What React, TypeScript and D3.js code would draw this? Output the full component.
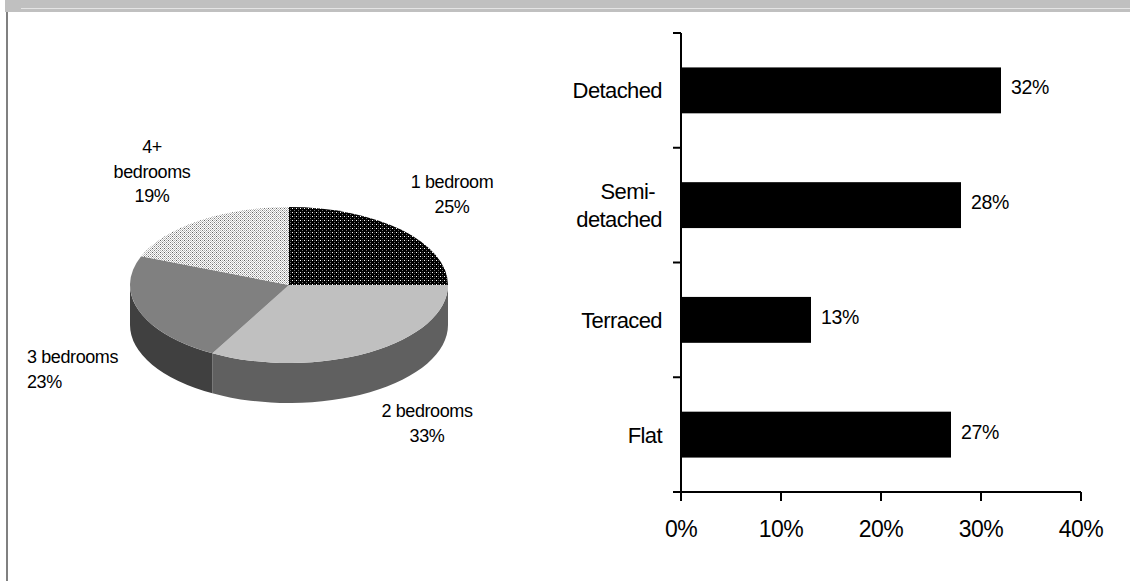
import React from 'react';
import * as d3 from 'd3';

// pie: bedrooms
const roomLabels = ['1 bedroom', '2 bedrooms', '3 bedrooms', '4+ bedrooms'];
const roomShares = [25, 33, 23, 19];

// bar: dwelling type
const dwellingTypes = ['Detached', 'Semi-detached', 'Terraced', 'Flat'];
const dwellingShares = [0.32, 0.28, 0.13, 0.27];
const xTicks = [0, 0.1, 0.2, 0.3, 0.4];

const W = 1130;
const H = 581;
const FONT = '"Liberation Sans", Arial, Helvetica, sans-serif';

// pie layout
const cx = 289;
const cy = 285;
const rx = 159;
const ry = 78;
const depth = 40;

const topFill = ['url(#darkDots)', '#c0c0c0', '#808080', 'url(#lightDots)'];
const sideFill = ['#202020', '#606060', '#404040', '#b0b0b0'];

// label text lines and where they sit (layout only)
const pieLabelLines = [
  ['1 bedroom', '25%'],
  ['2 bedrooms', '33%'],
  ['3 bedrooms', '23%'],
  ['4+', 'bedrooms', '19%'],
];
const pieLabelPos = [
  { x: 452, y: 182, anchor: 'middle' },
  { x: 427, y: 411, anchor: 'middle' },
  { x: 27, y: 357, anchor: 'start' },
  { x: 152, y: 147, anchor: 'middle' },
];

const pt = (a: number, dy = 0) => [cx + rx * Math.sin(a), cy - ry * Math.cos(a) + dy];

function topPath(a0: number, a1: number) {
  const [x0, y0] = pt(a0);
  const [x1, y1] = pt(a1);
  const large = a1 - a0 > Math.PI ? 1 : 0;
  return `M${cx},${cy}L${x0},${y0}A${rx},${ry} 0 ${large} 1 ${x1},${y1}Z`;
}

function sidePath(a0: number, a1: number) {
  const s = Math.max(a0, Math.PI / 2);
  const e = Math.min(a1, (3 * Math.PI) / 2);
  if (e <= s) return null;
  const [x0, y0] = pt(s);
  const [x1, y1] = pt(e);
  return `M${x0},${y0}A${rx},${ry} 0 0 1 ${x1},${y1}L${x1},${y1 + depth}A${rx},${ry} 0 0 0 ${x0},${y0 + depth}Z`;
}

export default function App() {
  const arcs = d3
    .pie<number>()
    .sort(null)
    .startAngle(0)
    .endAngle(2 * Math.PI)(roomShares);

  const x = d3.scaleLinear().domain([0, 0.4]).range([681, 1081]);
  const y = d3.scaleBand<string>().domain(dwellingTypes).range([33, 492]);
  const barH = y.bandwidth() * 0.4;
  const axisY = 492;

  return (
    <svg
      width={W}
      height={H}
      style={{ position: 'absolute', left: 0, top: 0, display: 'block', background: '#fff' }}
      fontFamily={FONT}
    >
      <defs>
        <pattern id="darkDots" width={4} height={4} patternUnits="userSpaceOnUse">
          <rect width={4} height={4} fill="#000" />
          <rect x={0} y={0} width={1} height={1} fill="#ffffff" />
          <rect x={2} y={2} width={1} height={1} fill="#707070" />
          <rect x={2} y={0} width={1} height={1} fill="#404040" />
        </pattern>
        <pattern id="lightDots" width={4} height={4} patternUnits="userSpaceOnUse">
          <rect width={4} height={4} fill="#fff" />
          <rect x={0} y={0} width={1} height={1} fill="#606060" />
          <rect x={2} y={0} width={1} height={1} fill="#b0b0b0" />
          <rect x={1} y={1} width={1} height={1} fill="#c0c0c0" />
          <rect x={3} y={1} width={1} height={1} fill="#c0c0c0" />
          <rect x={0} y={2} width={1} height={1} fill="#b0b0b0" />
          <rect x={2} y={2} width={1} height={1} fill="#808080" />
          <rect x={1} y={3} width={1} height={1} fill="#c0c0c0" />
          <rect x={3} y={3} width={1} height={1} fill="#c0c0c0" />
        </pattern>
      </defs>

      {/* frame */}
      <rect x={5} y={0} width={W - 5} height={12} fill="#c0c0c0" />
      <rect x={21} y={8} width={W - 21} height={1} fill="#e4e4e4" />
      <rect x={6} y={12} width={2} height={H - 12} fill="#808080" />

      {/* pie sides */}
      {arcs.map((a, i) => {
        const d = sidePath(a.startAngle, a.endAngle);
        return d ? <path key={'s' + i} d={d} fill={sideFill[i]} /> : null;
      })}
      {/* pie tops */}
      {arcs.map((a, i) => (
        <path key={'t' + i} d={topPath(a.startAngle, a.endAngle)} fill={topFill[i]} />
      ))}

      {/* pie labels */}
      {pieLabelLines.map((lines, i) => (
        <text
          key={'pl' + i}
          x={pieLabelPos[i].x}
          y={pieLabelPos[i].y}
          textAnchor={pieLabelPos[i].anchor}
          fontSize={18}
          letterSpacing={-0.4}
          dominantBaseline="central"
          fill="#000"
        >
          {lines.map((l, j) => (
            <tspan key={j} x={pieLabelPos[i].x} dy={j === 0 ? 0 : 24.5}>
              {l}
            </tspan>
          ))}
        </text>
      ))}

      {/* bars */}
      {dwellingTypes.map((t, i) => (
        <rect
          key={'b' + t}
          x={x(0)}
          y={(y(t) as number) + (y.bandwidth() - barH) / 2}
          width={x(dwellingShares[i]) - x(0)}
          height={barH}
          fill="#000"
        />
      ))}
      {dwellingTypes.map((t, i) => (
        <text
          key={'v' + t}
          x={x(dwellingShares[i]) + 10}
          y={(y(t) as number) + y.bandwidth() / 2 - 3}
          fontSize={19.5}
          letterSpacing={-0.4}
          dominantBaseline="central"
        >
          {Math.round(dwellingShares[i] * 100) + '%'}
        </text>
      ))}

      {/* y axis */}
      <line x1={x(0)} x2={x(0)} y1={33} y2={axisY} stroke="#000" strokeWidth={2} />
      {[...dwellingTypes.map((t) => y(t) as number), axisY].map((v, i) => (
        <line key={'yt' + i} x1={x(0) - 8} x2={x(0)} y1={v} y2={v} stroke="#000" strokeWidth={2} />
      ))}
      {dwellingTypes.map((t) => {
        const lines = t === 'Semi-detached' ? ['Semi-', 'detached'] : [t];
        const cyText = (y(t) as number) + y.bandwidth() / 2;
        const start = cyText - ((lines.length - 1) * 28) / 2;
        return (
          <text
            key={'c' + t}
            textAnchor="end"
            fontSize={22}
            letterSpacing={-0.6}
            dominantBaseline="central"
          >
            {lines.map((l, j) => (
              <tspan key={j} x={662 - (j === 0 && lines.length > 1 ? 7 : 0)} y={start + j * 28}>
                {l}
              </tspan>
            ))}
          </text>
        );
      })}

      {/* x axis */}
      <line x1={x(0) - 8} x2={x(0.4)} y1={axisY} y2={axisY} stroke="#000" strokeWidth={2} />
      {xTicks.map((v) => (
        <g key={'xt' + v}>
          <line x1={x(v)} x2={x(v)} y1={axisY} y2={axisY + 9} stroke="#000" strokeWidth={2} />
          <text
            x={x(v)}
            y={529}
            textAnchor="middle"
            fontSize={23}
            letterSpacing={-0.5}
            dominantBaseline="central"
          >
            {d3.format('.0%')(v)}
          </text>
        </g>
      ))}
    </svg>
  );
}
